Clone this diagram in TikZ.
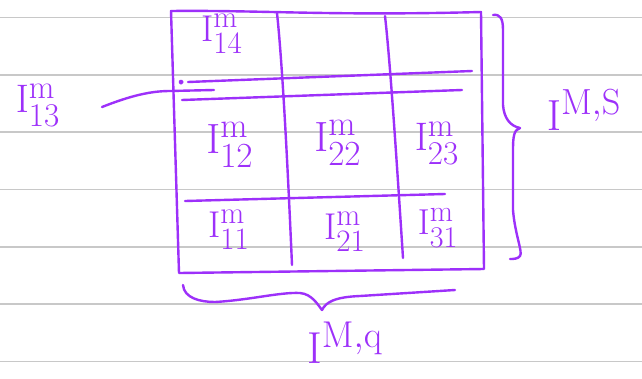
\documentclass[tikz,border=0pt]{standalone}
\usepackage{amsmath}
\usepackage{graphicx}
\definecolor{pen}{RGB}{157,48,250}
\definecolor{paperrule}{RGB}{200,200,200}
\newcommand{\hwlabel}[2]{\scalebox{#1}{\Huge$#2$}}
\begin{document}
\begin{tikzpicture}[x=1pt,y=-1pt,
  pen/.style={draw=pen, line width=2.4pt, line cap=round, line join=round},
  lbl/.style={text=pen, inner sep=0pt}]
\useasboundingbox (0,0) rectangle (642,378);
\fill[white] (0,0) rectangle (642,378);
\foreach \y in {17.5,75,132,189.5,247,304,361.5}
  \draw[paperrule, line width=1.2pt] (0,\y) -- (642,\y);
% grid
\coordinate (tl) at (171,11);
\coordinate (tr) at (481,12);
\coordinate (br) at (484,269);
\coordinate (bl) at (179,273);
\draw[pen] (tl) .. controls (260,10) and (330,16) .. (tr) -- (br) -- (bl) -- cycle;
\coordinate (v1t) at (277,13); \coordinate (v1b) at (292,265);
\coordinate (v2t) at (385,16); \coordinate (v2b) at (403,258);
\draw[pen] (v1t) .. controls (282,60) and (287,150) .. (v1b);
\draw[pen] (v2t) .. controls (390,60) and (396,150) .. (v2b);
\coordinate (h1a) at (188,82); \coordinate (h1b) at (472,71);
\coordinate (h2a) at (182,100); \coordinate (h2b) at (462,90);
\coordinate (h3a) at (185,201); \coordinate (h3b) at (445,194);
\draw[pen] (h1a) -- (h1b);
\fill[pen] (181,82) circle (1.4pt);
\draw[pen] (h2a) -- (h2b);
\draw[pen] (h3a) -- (h3b);
% labels
\node[lbl] (l14) at (222,34) {\hwlabel{1.5}{\mathrm{I}^{\mathrm{m}}_{\mathrm{14}}}};
\node[lbl] (l12) at (230,145) {\hwlabel{1.7}{\mathrm{I}^{\mathrm{m}}_{\mathrm{12}}}};
\node[lbl] (l22) at (338,143) {\hwlabel{1.7}{\mathrm{I}^{\mathrm{m}}_{\mathrm{22}}}};
\node[lbl] (l23) at (437,143) {\hwlabel{1.6}{\mathrm{I}^{\mathrm{m}}_{\mathrm{23}}}};
\node[lbl] (l11) at (229,230) {\hwlabel{1.5}{\mathrm{I}^{\mathrm{m}}_{\mathrm{11}}}};
\node[lbl] (l21) at (345,232) {\hwlabel{1.5}{\mathrm{I}^{\mathrm{m}}_{\mathrm{21}}}};
\node[lbl] (l31) at (438,228) {\hwlabel{1.45}{\mathrm{I}^{\mathrm{m}}_{\mathrm{31}}}};
\node[lbl] (l13) at (38,105) {\hwlabel{1.6}{\mathrm{I}^{\mathrm{m}}_{\mathrm{13}}}};
% pointer
\coordinate (pa) at (102,107);
\coordinate (pb) at (214,90);
\draw[pen] (pa) .. controls (130,96) and (150,91) .. (170,91) -- (pb);
% right brace
\draw[pen] (493,15) .. controls (500,14) and (503,18) .. (503,30)
  -- (503,105) .. controls (504,118) and (510,126) .. (520,128)
  .. controls (514,130) and (513,136) .. (513,150)
  -- (513,210) .. controls (515,235) and (523,252) .. (520,256)
  .. controls (518,259) and (513,259) .. (510,259);
\node[lbl] (lms) at (584,110) {\hwlabel{1.75}{\mathrm{I}^{\mathrm{M,S}}}};
% bottom brace
\draw[pen] (183,285) .. controls (184,298) and (200,302) .. (215,302)
  .. controls (250,300) and (280,292) .. (300,293)
  .. controls (312,294) and (318,305) .. (322,310)
  .. controls (326,302) and (335,297) .. (360,296)
  -- (455,290);
\node[lbl] (lmq) at (345,343) {\hwlabel{1.8}{\mathrm{I}^{\mathrm{M,q}}}};
\end{tikzpicture}
\end{document}
